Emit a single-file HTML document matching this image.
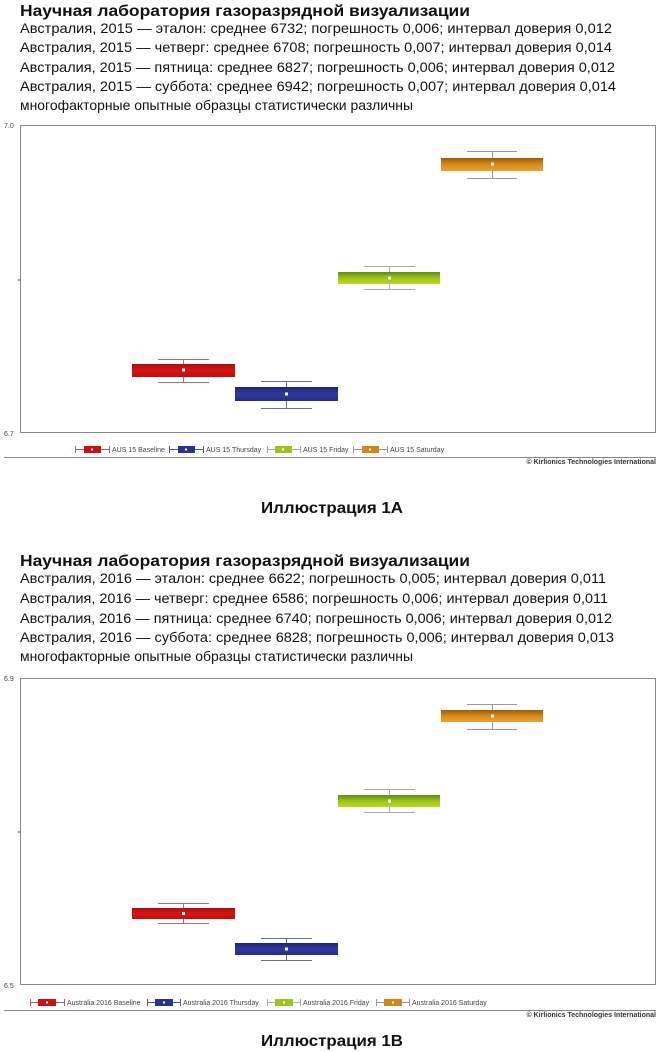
<!DOCTYPE html>
<html><head><meta charset="utf-8"><style>
html,body{margin:0;padding:0;background:#fff;width:660px;height:1052px;overflow:hidden}
svg{display:block}
.t{font-family:"Liberation Sans","DejaVu Sans",sans-serif;font-size:14px;fill:#111}
.h{font-family:"Liberation Sans","DejaVu Sans",sans-serif;font-size:16px;font-weight:bold;fill:#111}
.c{font-family:"Liberation Sans","DejaVu Sans",sans-serif;font-size:16px;font-weight:bold;fill:#111}
.s{font-family:"Liberation Sans",sans-serif;font-size:7px;fill:#444}
.cp{font-family:"Liberation Sans",sans-serif;font-size:7px;font-weight:bold;fill:#333}
</style></head><body>
<svg width="660" height="1052" viewBox="0 0 660 1052" xmlns="http://www.w3.org/2000/svg">
<defs>
<linearGradient id="gr" x1="0" y1="0" x2="0" y2="1"><stop offset="0" stop-color="#a81010"/><stop offset=".5" stop-color="#d81414"/><stop offset="1" stop-color="#c00e0e"/></linearGradient>
<linearGradient id="gb" x1="0" y1="0" x2="0" y2="1"><stop offset="0" stop-color="#1c2478"/><stop offset=".5" stop-color="#303a9c"/><stop offset="1" stop-color="#242c88"/></linearGradient>
<linearGradient id="gg" x1="0" y1="0" x2="0" y2="1"><stop offset="0" stop-color="#5e8a14"/><stop offset=".5" stop-color="#9cc41c"/><stop offset="1" stop-color="#bcd820"/></linearGradient>
<linearGradient id="go" x1="0" y1="0" x2="0" y2="1"><stop offset="0" stop-color="#9a5a0c"/><stop offset=".5" stop-color="#d88a1c"/><stop offset="1" stop-color="#eca22c"/></linearGradient>
</defs>

<!-- Chart 1 text -->
<text class="h" x="20" y="16" textLength="450" lengthAdjust="spacingAndGlyphs">Научная лаборатория газоразрядной визуализации</text>
<text class="t" x="20" y="33" textLength="592" lengthAdjust="spacingAndGlyphs">Австралия, 2015 — эталон: среднее 6732; погрешность 0,006; интервал доверия 0,012</text>
<text class="t" x="20" y="52" textLength="592" lengthAdjust="spacingAndGlyphs">Австралия, 2015 — четверг: среднее 6708; погрешность 0,007; интервал доверия 0,014</text>
<text class="t" x="20" y="72" textLength="595" lengthAdjust="spacingAndGlyphs">Австралия, 2015 — пятница: среднее 6827; погрешность 0,006; интервал доверия 0,012</text>
<text class="t" x="20" y="91" textLength="596" lengthAdjust="spacingAndGlyphs">Австралия, 2015 — суббота: среднее 6942; погрешность 0,007; интервал доверия 0,014</text>
<text class="t" x="20" y="110" textLength="393" lengthAdjust="spacingAndGlyphs">многофакторные опытные образцы статистически различны</text>

<!-- Chart 1 -->
<rect x="20.5" y="125.5" width="635" height="307" fill="#fff" stroke="#888" stroke-width="1"/>
<text class="s" x="4" y="128">7.0</text>
<text class="s" x="4" y="436">6.7</text>
<line x1="18" y1="280" x2="20" y2="280" stroke="#555"/>
<g stroke="#b07070" stroke-width="1" fill="none"><line x1="158" y1="359.5" x2="209" y2="359.5"/><line x1="158" y1="382.5" x2="209" y2="382.5"/><line x1="183.5" y1="359" x2="183.5" y2="383"/></g>
<rect x="132" y="364" width="103" height="13" fill="url(#gr)"/>
<g stroke="#6a6a90" fill="none"><line x1="261" y1="381.5" x2="312" y2="381.5"/><line x1="261" y1="408.5" x2="312" y2="408.5"/><line x1="286.5" y1="381" x2="286.5" y2="409"/></g>
<rect x="235" y="387" width="103" height="14" fill="url(#gb)"/>
<g stroke="#aaa" fill="none"><line x1="364" y1="266.5" x2="415" y2="266.5"/><line x1="364" y1="289.5" x2="415" y2="289.5"/><line x1="389.5" y1="266" x2="389.5" y2="290"/></g>
<rect x="338" y="272" width="102" height="12" fill="url(#gg)"/>
<g stroke="#999" fill="none"><line x1="467" y1="151.5" x2="517" y2="151.5"/><line x1="467" y1="178.5" x2="517" y2="178.5"/><line x1="492.5" y1="151" x2="492.5" y2="179"/></g>
<rect x="441" y="158" width="102" height="13" fill="url(#go)"/>
<g fill="#fff"><rect x="182" y="368.5" width="3" height="3"/><rect x="285" y="392.5" width="3" height="3"/><rect x="388" y="276.5" width="3" height="3"/><rect x="491" y="162.5" width="3" height="3"/></g>

<!-- legend 1 -->
<g stroke="#b06060"><line x1="75" y1="449.5" x2="110" y2="449.5"/><line x1="75.5" y1="446" x2="75.5" y2="453"/><line x1="109.5" y1="446" x2="109.5" y2="453"/></g>
<rect x="84" y="446" width="17" height="7" fill="#d01010"/><rect x="91" y="448.5" width="2" height="2" fill="#fff"/>
<text class="s" x="112" y="452">AUS 15 Baseline</text>
<g stroke="#555590"><line x1="169" y1="449.5" x2="204" y2="449.5"/><line x1="169.5" y1="446" x2="169.5" y2="453"/><line x1="203.5" y1="446" x2="203.5" y2="453"/></g>
<rect x="178" y="446" width="17" height="7" fill="#2a3290"/><rect x="185" y="448.5" width="2" height="2" fill="#fff"/>
<text class="s" x="206" y="452">AUS 15 Thursday</text>
<g stroke="#aaa"><line x1="267" y1="449.5" x2="301" y2="449.5"/><line x1="267.5" y1="446" x2="267.5" y2="453"/><line x1="300.5" y1="446" x2="300.5" y2="453"/></g>
<rect x="275" y="446" width="17" height="7" fill="#9cc41c"/><rect x="282" y="448.5" width="2" height="2" fill="#fff"/>
<text class="s" x="303" y="452">AUS 15 Friday</text>
<g stroke="#999"><line x1="353" y1="449.5" x2="388" y2="449.5"/><line x1="353.5" y1="446" x2="353.5" y2="453"/><line x1="387.5" y1="446" x2="387.5" y2="453"/></g>
<rect x="362" y="446" width="17" height="7" fill="#d0861c"/><rect x="369" y="448.5" width="2" height="2" fill="#fff"/>
<text class="s" x="390" y="452">AUS 15 Saturday</text>
<line x1="4" y1="457.5" x2="656" y2="457.5" stroke="#888"/>
<text class="cp" x="656" y="464" text-anchor="end">© Kirlionics Technologies International</text>

<text class="c" x="332" y="513" text-anchor="middle" textLength="142" lengthAdjust="spacingAndGlyphs">Иллюстрация 1A</text>

<!-- Chart 2 text -->
<text class="h" x="20" y="566" textLength="450" lengthAdjust="spacingAndGlyphs">Научная лаборатория газоразрядной визуализации</text>
<text class="t" x="20" y="583" textLength="586" lengthAdjust="spacingAndGlyphs">Австралия, 2016 — эталон: среднее 6622; погрешность 0,005; интервал доверия 0,011</text>
<text class="t" x="20" y="603" textLength="588" lengthAdjust="spacingAndGlyphs">Австралия, 2016 — четверг: среднее 6586; погрешность 0,006; интервал доверия 0,011</text>
<text class="t" x="20" y="623" textLength="592" lengthAdjust="spacingAndGlyphs">Австралия, 2016 — пятница: среднее 6740; погрешность 0,006; интервал доверия 0,012</text>
<text class="t" x="20" y="642" textLength="594" lengthAdjust="spacingAndGlyphs">Австралия, 2016 — суббота: среднее 6828; погрешность 0,006; интервал доверия 0,013</text>
<text class="t" x="20" y="661" textLength="393" lengthAdjust="spacingAndGlyphs">многофакторные опытные образцы статистически различны</text>

<!-- Chart 2 -->
<rect x="20.5" y="678.5" width="635" height="306" fill="#fff" stroke="#888" stroke-width="1"/>
<text class="s" x="4" y="681">6.9</text>
<text class="s" x="4" y="988">6.5</text>
<line x1="18" y1="832" x2="20" y2="832" stroke="#555"/>
<g stroke="#b07070" fill="none"><line x1="158" y1="903.5" x2="209" y2="903.5"/><line x1="158" y1="923.5" x2="209" y2="923.5"/><line x1="183.5" y1="903" x2="183.5" y2="924"/></g>
<rect x="132" y="908" width="103" height="11" fill="url(#gr)"/>
<g stroke="#6a6a90" fill="none"><line x1="261" y1="938.5" x2="312" y2="938.5"/><line x1="261" y1="960.5" x2="312" y2="960.5"/><line x1="286.5" y1="938" x2="286.5" y2="961"/></g>
<rect x="235" y="943" width="103" height="12" fill="url(#gb)"/>
<g stroke="#aaa" fill="none"><line x1="364" y1="789.5" x2="415" y2="789.5"/><line x1="364" y1="812.5" x2="415" y2="812.5"/><line x1="389.5" y1="789" x2="389.5" y2="813"/></g>
<rect x="338" y="795" width="102" height="12" fill="url(#gg)"/>
<g stroke="#999" fill="none"><line x1="467" y1="704.5" x2="517" y2="704.5"/><line x1="467" y1="729.5" x2="517" y2="729.5"/><line x1="492.5" y1="704" x2="492.5" y2="730"/></g>
<rect x="441" y="710" width="102" height="12" fill="url(#go)"/>
<g fill="#fff"><rect x="182" y="912" width="3" height="3"/><rect x="285" y="947.5" width="3" height="3"/><rect x="388" y="799.5" width="3" height="3"/><rect x="491" y="714.5" width="3" height="3"/></g>

<!-- legend 2 -->
<g stroke="#b06060"><line x1="30" y1="1002.5" x2="65" y2="1002.5"/><line x1="30.5" y1="999" x2="30.5" y2="1006"/><line x1="64.5" y1="999" x2="64.5" y2="1006"/></g>
<rect x="38" y="999" width="18" height="7" fill="#d01010"/><rect x="46" y="1001.5" width="2" height="2" fill="#fff"/>
<text class="s" x="67" y="1005">Australia 2016 Baseline</text>
<g stroke="#555590"><line x1="147" y1="1002.5" x2="181" y2="1002.5"/><line x1="147.5" y1="999" x2="147.5" y2="1006"/><line x1="180.5" y1="999" x2="180.5" y2="1006"/></g>
<rect x="155" y="999" width="18" height="7" fill="#2a3290"/><rect x="163" y="1001.5" width="2" height="2" fill="#fff"/>
<text class="s" x="183" y="1005">Australia 2016 Thursday</text>
<g stroke="#aaa"><line x1="267" y1="1002.5" x2="301" y2="1002.5"/><line x1="267.5" y1="999" x2="267.5" y2="1006"/><line x1="300.5" y1="999" x2="300.5" y2="1006"/></g>
<rect x="275" y="999" width="18" height="7" fill="#9cc41c"/><rect x="283" y="1001.5" width="2" height="2" fill="#fff"/>
<text class="s" x="303" y="1005">Australia 2016 Friday</text>
<g stroke="#999"><line x1="376" y1="1002.5" x2="410" y2="1002.5"/><line x1="376.5" y1="999" x2="376.5" y2="1006"/><line x1="409.5" y1="999" x2="409.5" y2="1006"/></g>
<rect x="384" y="999" width="18" height="7" fill="#d0861c"/><rect x="392" y="1001.5" width="2" height="2" fill="#fff"/>
<text class="s" x="412" y="1005">Australia 2016 Saturday</text>
<line x1="4" y1="1010.5" x2="656" y2="1010.5" stroke="#888"/>
<text class="cp" x="656" y="1017" text-anchor="end">© Kirlionics Technologies International</text>

<text class="c" x="332" y="1046" text-anchor="middle" textLength="142" lengthAdjust="spacingAndGlyphs">Иллюстрация 1B</text>
</svg>
</body></html>
